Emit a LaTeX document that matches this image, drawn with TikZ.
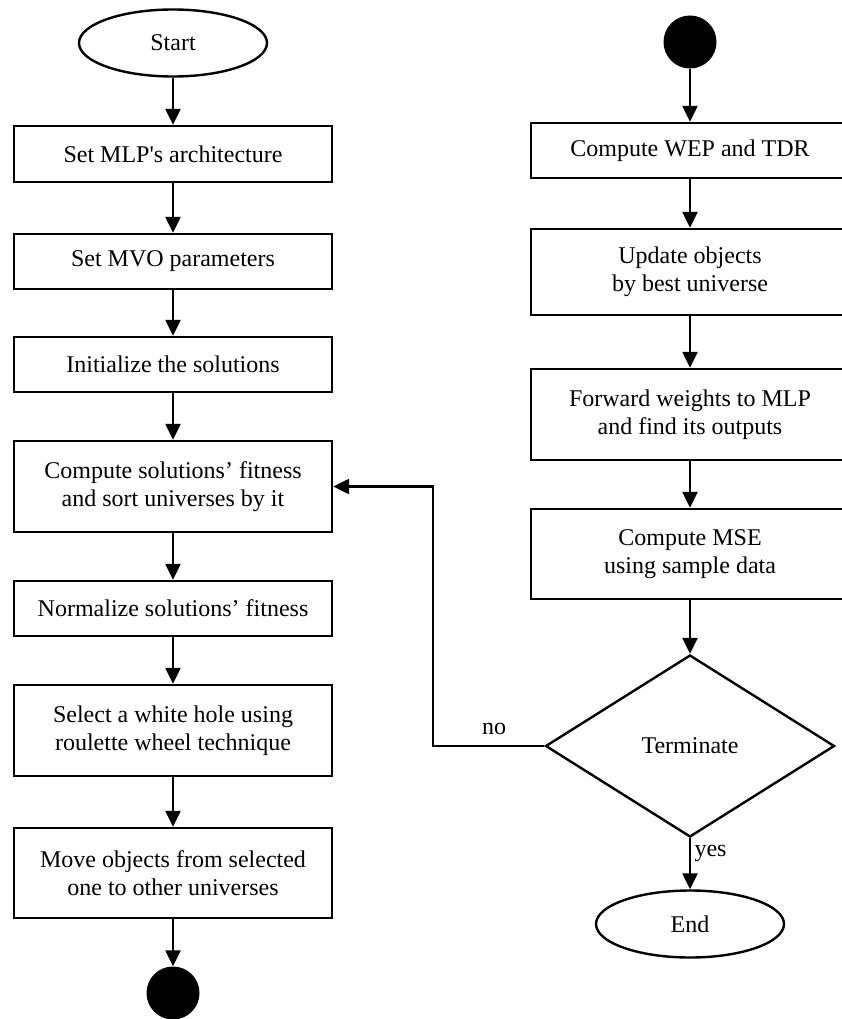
\documentclass[tikz,border=0pt]{standalone}
\usepackage{fontspec}
\setmainfont{Liberation Serif}
\usetikzlibrary{shapes.geometric,arrows.meta}
\tikzset{
	proc/.style={draw, line width=2.4pt, rectangle, minimum width=318pt, align=center, inner sep=0pt},
	term/.style={draw, line width=2.4pt, ellipse, minimum width=188pt, minimum height=67pt, inner sep=0pt},
	cond/.style={draw, line width=2.4pt, diamond, minimum width=289pt, minimum height=182pt, inner sep=0pt},
	conn/.style={fill=black, circle, minimum size=53pt, inner sep=0pt},
	flow/.style={line width=2.4pt, -{Triangle[width=15pt,length=16pt]}}
}
\begin{document}
\begin{tikzpicture}[x=1pt, y=-1pt, font=\fontsize{24pt}{27.5pt}\selectfont]
	\useasboundingbox (0,0) rectangle (842,1019);
	\clip (0,0) rectangle (842,1019);
	% left column
	\node[term] (start) at (173,43) {Start};
	\node[proc, minimum height=56pt] (arch) at (173,154) {Set MLP\textquotesingle s architecture};
	\node[proc, minimum height=55pt] (param) at (173,261.5) {Set MVO parameters};
	\node[proc, minimum height=55pt] (init) at (173,364.5) {Initialize the solutions};
	\node[proc, minimum height=91pt] (fit) at (173,486.5) {Compute solutions’ fitness\\and sort universes by it};
	\node[proc, minimum height=55pt] (norm) at (173,608.5) {Normalize solutions’ fitness};
	\node[proc, minimum height=91pt] (white) at (173,730.5) {Select a white hole using\\roulette wheel technique};
	\node[proc, minimum height=90pt] (move) at (173,873) {Move objects from selected\\one to other universes};
	\node[conn] (outA) at (173,993) {};
	% right column
	\node[conn] (inA) at (690,42) {};
	\node[proc, minimum height=55pt] (wep) at (690,150.5) {Compute WEP and TDR};
	\node[proc, minimum height=86pt] (upd) at (690,272) {Update objects\\by best universe};
	\node[proc, minimum height=91pt] (fwd) at (690,414.5) {Forward weights to MLP\\and find its outputs};
	\node[proc, minimum height=90pt] (mse) at (690,554) {Compute MSE\\using sample data};
	\node[cond] (check) at (690,746) {Terminate};
	\node[term] (stop) at (690,924) {End};
	\coordinate (bend) at (433,746);
	% connectors
	\draw[flow] (start) -- (arch);
	\draw[flow] (arch) -- (param);
	\draw[flow] (param) -- (init);
	\draw[flow] (init) -- (fit);
	\draw[flow] (fit) -- (norm);
	\draw[flow] (norm) -- (white);
	\draw[flow] (white) -- (move);
	\draw[flow] (move) -- (outA);
	\draw[flow] (inA) -- (wep);
	\draw[flow] (wep) -- (upd);
	\draw[flow] (upd) -- (fwd);
	\draw[flow] (fwd) -- (mse);
	\draw[flow] (mse) -- (check);
	\draw[flow] (check) -- node[right, pos=0.3] {yes} (stop);
	\draw[flow] (check.west) -- node[above=7pt, pos=0.45] {no} (bend) |- (fit.east);
\end{tikzpicture}
\end{document}
